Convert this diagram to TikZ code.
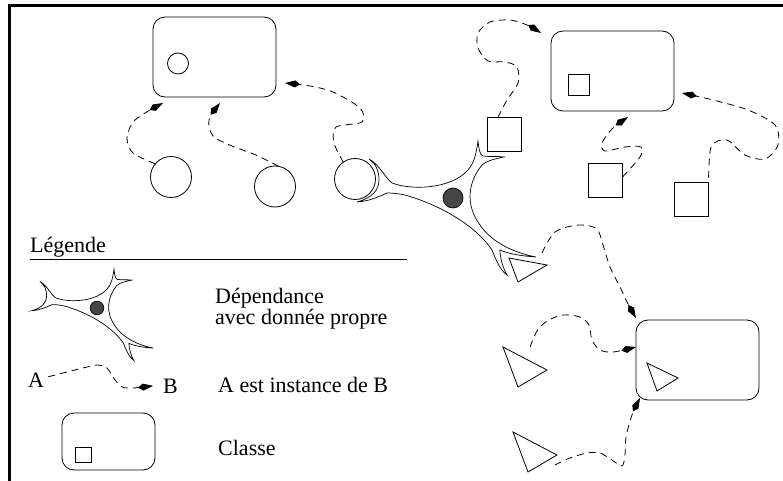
\documentclass[tikz,border=0pt]{standalone}
\usepackage{fontspec}
\setmainfont{Liberation Serif}
\usetikzlibrary{arrows.meta}
\definecolor{nucleus}{HTML}{464646}
\begin{document}
\begin{tikzpicture}[x=1pt,y=-1pt,
  classbox/.style={draw, rounded corners=12pt, minimum width=123pt, minimum height=80pt,
                   inner sep=0pt, outer sep=0pt, line width=0.8pt, fill=white},
  obj/.style={draw, circle, minimum size=41pt, inner sep=0pt, outer sep=0pt, line width=0.8pt},
  sq/.style={draw, minimum width=34pt, minimum height=34pt, inner sep=0pt, outer sep=0pt, line width=0.8pt},
  tri/.style={draw, line width=0.8pt, line join=miter},
  inst/.style={draw, line width=0.8pt, dash pattern=on 7pt off 5pt,
               -{Kite[length=15pt,width=7pt,inset=5pt]}},
  txt/.style={font=\fontsize{22}{17.5}\selectfont, inner sep=0pt, anchor=base west},
  neuron/.pic={
    \draw[line width=0.7pt, fill=white]
      (-84,-39)
      .. controls (-73,-33) and (-68,-20) .. (-61,-15)
      .. controls (-43,-8) and (-3,-8) .. (15,-28)
      .. controls (21,-35) and (23,-43) .. (25,-57)
      .. controls (26,-48) and (27,-43) .. (30,-42)
      .. controls (37,-41) and (44,-42) .. (51,-41)
      .. controls (42,-39) and (35,-38) .. (29,-33)
      .. controls (15,-16) and (12,7) .. (27,27)
      .. controls (37,42) and (57,54) .. (83,59)
      .. controls (67,58) and (53,55) .. (47,52)
      .. controls (47,60) and (50,70) .. (54,77)
      .. controls (47,72) and (43,62) .. (39,52)
      .. controls (22,27) and (-13,7) .. (-48,-3)
      .. controls (-58,-5) and (-63,-5) .. (-66,-5)
      .. controls (-75,-1) and (-83,3) .. (-96,4)
      .. controls (-81,0) and (-74,-8) .. (-74,-18)
      .. controls (-74,-28) and (-78,-35) .. (-84,-39) -- cycle;
    \draw[line width=0.7pt, fill=nucleus] (0,0) circle[radius=10];
  }]
\useasboundingbox (0,0) rectangle (783,481);

% frame
\draw[line width=3pt] (9.5,481) -- (9.5,5.5) -- (783,5.5);

% first class and its instances
\node[classbox] (b1) at (214.5,57) {};
\node[obj, minimum size=21pt] (b1c) at (178,63.5) {};
\node[obj] (c1) at (171,177) {};
\node[obj] (c2) at (275,186.5) {};
\node[obj] (c3) at (355,179) {};

% dependency with its own data
\pic at (453,198) {neuron};

% second class and its instances
\node[classbox] (b2) at (612.5,71) {};
\node[sq, minimum width=21pt, minimum height=21pt] (b2s) at (578.5,84.5) {};
\node[sq] (sA) at (504,134.5) {};
\node[sq] (sB) at (605.5,180) {};
\node[sq] (sC) at (691.5,199.5) {};

% third class and its instances
\node[classbox] (b3) at (697.5,360) {};
\coordinate (t0a) at (647,363); \coordinate (t0b) at (678,378); \coordinate (t0c) at (657,391);
\draw[tri] (t0a) -- (t0b) -- (t0c) -- cycle;
\coordinate (t1a) at (509,258); \coordinate (t1b) at (547,265); \coordinate (t1c) at (518,282);
\draw[tri] (t1a) -- (t1b) -- (t1c) -- cycle;
\coordinate (t2a) at (503,347); \coordinate (t2b) at (547,370); \coordinate (t2c) at (518,387);
\draw[tri] (t2a) -- (t2b) -- (t2c) -- cycle;
\coordinate (t3a) at (513,432); \coordinate (t3b) at (557,455); \coordinate (t3c) at (528,472);
\draw[tri] (t3a) -- (t3b) -- (t3c) -- cycle;
\coordinate (t1s) at (542,253);
\coordinate (t2s) at (530,347);
\coordinate (t3s) at (555,465);

% instance-of links
\draw[inst] plot[smooth] coordinates {(c1.140) (133,153) (127,138) (135,120)
  ([shift={(10,6)}]b1.south west)};
\draw[inst] plot[smooth] coordinates {(c2.80) (256,155) (232,146) (213,136) (209,120)
  ([shift={(5.5,6)}]b1.south)};
\draw[inst] plot[smooth] coordinates {(c3.125) (334,143) (336,127) (362,122) (360,108)
  (333,92) (310,86) ([shift={(9,26)}]b1.east)};
\draw[inst] plot[smooth] coordinates {(sA.110) (507,100) (518,83) (517,67) (505,62)
  (488,61) (478,48) (478,33) (490,22) (510,20) (527,25) ([shift={(-10,2)}]b2.north west)};
\draw[inst] plot[smooth] coordinates {(sB.10) (640,157) (641,147) (625,147) (605,151)
  (602,143) (612,129) ([shift={(15.5,6)}]b2.south)};
\draw[inst] plot[smooth] coordinates {(sC.30) (709,165) (712,145) (727,140) (745,155)
  (765,159) (778,145) (775,125) (748,110) (713,100) ([shift={(8,22)}]b2.east)};
\draw[inst] plot[smooth] coordinates {(t1s) (547,243) (555,232) (567,227) (582,225)
  (597,229) (603,245) (610,267) (620,287) (627,302) ([shift={(0,-2)}]b3.north west)};
\draw[inst] plot[smooth] coordinates {(t2s) (537,331) (547,321) (563,315) (580,317)
  (589,325) (592,340) (600,350) (613,352) ([shift={(0,-13)}]b3.west)};
\draw[inst] plot[smooth] coordinates {(t3s) (570,458) (587,453) (600,453) (612,460)
  (622,466) (625,455) (626,437) (632,415) ([shift={(4,-2)}]b3.south west)};

% legend
\node[txt] (leg) at (30,252) {Légende};
\draw[line width=0.8pt] (30,259) coordinate (legl) -- (407,259) coordinate (legr);
\pic[scale=0.68] at (97,308) {neuron};
\node[txt, align=left] (dep) at (215,324) {Dépendance\\avec donnée propre};
\node[txt] (la) at (28,387) {A};
\node[txt] (lb) at (163,393) {B};
\draw[inst] plot[smooth] coordinates {([shift={(4,-3)}]la.east) (67,372) (87,367) (98,365)
  (107,368) (115,380) (122,387) (133,388) ([shift={(-10,0)}]lb.west)};
\node[txt] (inst) at (218,392) {A est instance de B};
\node[classbox, minimum width=93pt, minimum height=57pt] (bl) at (108.5,441.5) {};
\node[sq, minimum width=16pt, minimum height=15pt] (bls) at (83,454.5) {};
\node[txt] (cls) at (218,455) {Classe};
\end{tikzpicture}
\end{document}
